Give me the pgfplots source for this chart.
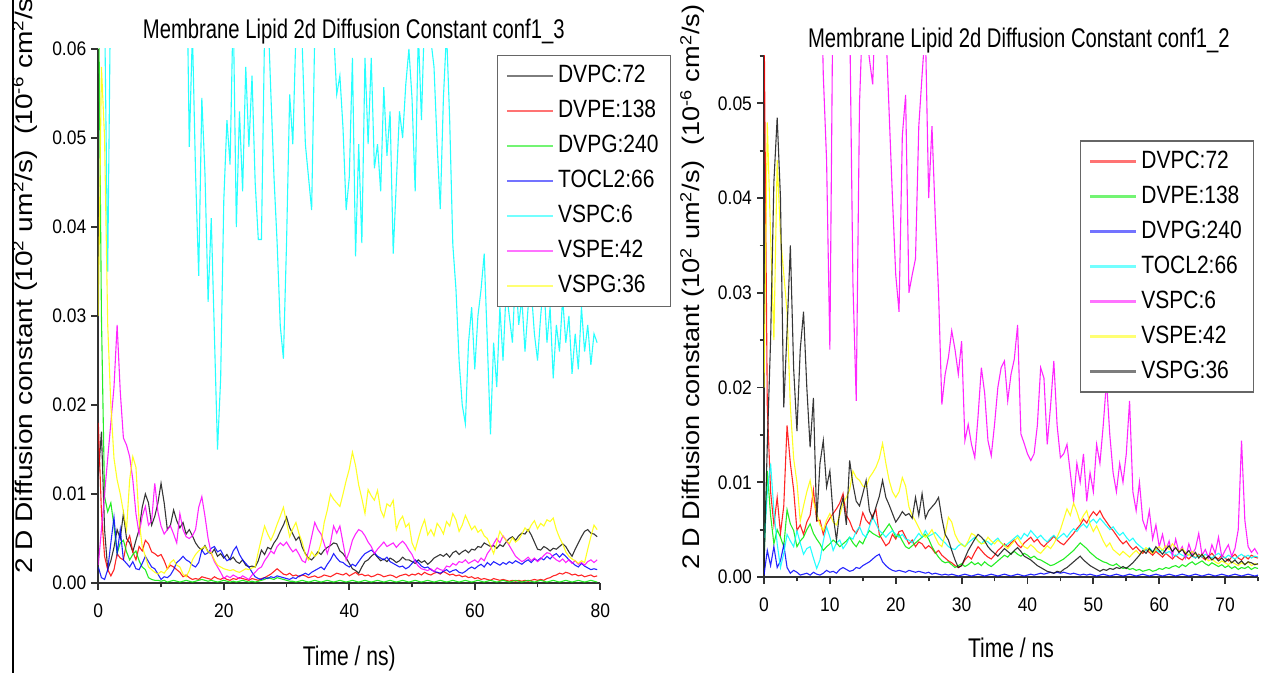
\documentclass[border=0pt]{standalone}
\usepackage{pgfplots}
\pgfplotsset{compat=1.18}
\usepackage{pgfplotstable}
\usepackage{fontspec}
\setmainfont{Liberation Sans}
\newfontfamily\fT[FakeStretch=0.75]{Liberation Sans}
\newfontfamily\fL[FakeStretch=0.84]{Liberation Sans}
\newfontfamily\fX[FakeStretch=0.78]{Liberation Sans}
\newfontfamily\fYL[FakeStretch=1.17]{Liberation Sans}
\newfontfamily\fYR[FakeStretch=1.13]{Liberation Sans}
\newfontfamily\fK[FakeStretch=0.89]{Liberation Sans}
\definecolor{pgreen}{RGB}{0,235,0}
\definecolor{pred}{RGB}{255,0,0}
\definecolor{pblue}{RGB}{0,0,255}
\definecolor{pcyan}{RGB}{0,255,255}
\definecolor{pmagenta}{RGB}{255,0,255}
\definecolor{pyellow}{RGB}{255,255,0}
\definecolor{pblack}{RGB}{20,20,20}
\definecolor{axgray}{RGB}{50,50,50}

% Left panel (conf1_3); values in units of 0.001
\pgfplotstableread{
t K R G B C M Y
0 12 18 70 1.8 90 2 30
0.5 17 8 30 0.6 75 6 58
1 6 3 9.7 0.4 65 10 50
1.5 1.5 1.5 8 1.5 35 14 29
2 2.5 0.8 9 4.5 70 18 20
2.5 4 1.5 6.4 7.4 75 22 14
3 6 3.3 3.3 3.3 75 29 11.6
3.5 5 2.8 4.5 6 75 21.5 10
4 7.8 2.6 4.8 2.6 75 16.3 8
4.5 5 4.5 3.5 2.2 75 15.5 6
5 4.5 5.3 2.6 1.8 75 14.2 11.6
5.5 3.5 3.5 3.2 2.4 75 11.6 14.2
6 4.8 2.6 3.6 1.6 75 7.8 13
6.5 6 4.1 2.5 1.5 75 5.5 7
7 8.5 3.6 1.8 2.2 75 7.5 4.1
7.5 10 4.8 1.5 3 75 8.6 3
8 9 4.4 0.6 2.4 75 6.5 1.8
8.5 6.5 3.5 0.4 1.8 75 7 1.5
9 7.5 3.3 0.3 1.6 75 11.2 1.2
9.5 9 3 0.3 1.0 75 8 1.0
10 11.2 3.2 0.2 0.4 75 6.4 1.3
10.5 9 2.5 0.3 0.7 75 5.5 1.1
11 6 1.6 0.1 0.6 75 6 1.6
11.5 6.5 2 0.2 0.9 75 6.4 2.3
12 8.2 1.8 0.3 1.5 75 5.5 2.6
12.5 7 1.5 0.2 2.3 75 4.5 2.0
13 6.2 1.2 0.1 2.6 75 7.8 1.8
13.5 6.8 0.7 0.2 3 75 6 1.0
14 5.5 0.9 0.3 2.6 75 5.2 0.7
14.5 6 0.6 0.2 2.4 49 5 1.4
15 5.3 0.4 0.1 2 62 5.3 2.6
15.5 4.5 0.5 0.2 1.8 46 6 3.2
16 4 0.4 0.3 2.3 34.5 8.5 3.6
16.5 3.7 0.7 0.4 3.7 54.5 9.7 3.9
17 4.2 0.6 0.3 3.2 46 7.5 4.1
17.5 3.5 0.5 0.2 3.4 31.6 5 3.5
18 3.3 0.4 0.3 3.9 41 3.3 3.4
18.5 3.8 0.7 0.2 4.1 28 2.4 2.6
19 3 0.5 0.1 3.5 15 1.8 2.0
19.5 3.3 0.4 0.2 3.7 23 1.2 1.8
20 2.8 0.6 0.3 3 43 0.5 1.6
20.5 3.2 0.4 0.2 2.5 52 0.8 1.5
21 2.6 0.3 0.1 2.7 47 0.6 1.4
21.5 2.9 0.5 0.2 3.6 65 0.9 1.5
22 2.4 0.4 0.1 4.1 40 0.7 1.3
22.5 2.2 0.6 0.2 3.2 53 0.5 1.2
23 2.6 0.5 0.3 2.6 44 0.8 1.4
23.5 2 0.4 0.2 2.2 58 0.6 1.6
24 1.8 0.3 0.1 1.8 49 0.4 1.5
24.5 1.9 0.5 0.2 1.2 57 0.9 1.7
25 1.8 0.4 0.1 0.7 45 1.2 1.8
25.5 2.5 0.3 0.2 0.5 38.6 1.6 3.5
26 3.7 0.5 0.3 0.4 38.6 1.8 5
26.5 3.2 0.6 0.4 0.6 62 2.5 6.4
27 4 0.8 0.6 0.5 65 3 5.5
27.5 3.8 1.0 0.5 0.7 55 3.6 4.8
28 4.5 1.3 0.4 0.6 45.6 3.3 5.6
28.5 5 1.6 0.6 0.8 38.2 4.1 6.6
29 5.8 1.3 0.5 0.7 28.9 4.5 7.5
29.5 6.5 1.0 0.4 0.6 25.2 4.2 8.5
30 7.4 0.9 0.3 0.5 38.2 4.6 6.8
30.5 6.2 1.1 0.2 0.4 54.9 4.0 5.2
31 5.5 0.8 0.2 0.6 49.3 3.5 6.1
31.5 4.8 0.9 0.1 0.5 62 3.8 6.8
32 5.2 0.7 0.2 0.8 63 3.2 5.5
32.5 4 0.9 0.3 0.9 60.5 2.5 4.6
33 3.3 0.8 0.2 1.1 49.3 2.3 3.2
33.5 2.8 0.6 0.1 0.9 45.6 3.6 2.6
34 2.6 0.7 0.2 1.2 41.9 5.2 3.5
34.5 3 0.8 0.3 1.4 62 6.8 3.0
35 3.5 0.6 0.2 1.6 64 6.0 3.3
35.5 3.2 0.7 0.1 1.8 66 5.5 4.5
36 3.7 0.9 0.2 1.5 70 4.4 6.8
36.5 4 0.8 0.3 2.1 68 3.3 8.2
37 4.2 0.7 0.2 2.6 65 4.5 10
37.5 4.5 0.9 0.1 3.3 62 6.4 9.4
38 4.4 1.1 0.2 2.8 54.9 5.6 9.0
38.5 3.6 1.0 0.3 2.4 57 6.4 8.6
39 3.3 0.9 0.2 2.3 51.1 4.5 10
39.5 2.8 1.1 0.1 2.0 41.9 2.6 11.5
40 2.2 0.8 0.2 1.8 45.6 3.5 12.8
40.5 1.6 1.0 0.3 2.1 59 4.8 14.7
41 1.4 1.2 0.2 1.9 36.7 5.5 13.2
41.5 1.1 0.9 0.1 2.4 49.3 6 11
42 1.8 1.0 0.2 2.9 38.2 5.8 9.5
42.5 2.4 0.8 0.3 3.3 59 5.3 7.8
43 2.6 0.9 0.2 3.5 49.3 4.6 10.5
43.5 3 0.7 0.1 3.7 59 4.1 9.8
44 3.3 0.8 0.2 3.4 46.6 3.3 9.3
44.5 2.9 1.0 0.3 3.0 49.3 3.8 10.4
45 2.5 0.9 0.2 2.8 44 4.2 8.2
45.5 2.7 0.7 0.1 2.6 55.7 4.6 7.4
46 2.4 0.8 0.2 2.9 48 4.1 8.9
46.5 2.8 0.9 0.3 2.4 53 4.3 8.6
47 2.6 0.8 0.2 2.2 37 4.5 9.3
47.5 2.3 0.6 0.1 2.0 45 4.0 6
48 2.5 0.8 0.2 1.8 53 4.4 7.0
48.5 2.9 0.9 0.3 1.9 50 4.7 7.5
49 2.6 1.0 0.2 1.6 56 4.3 6.3
49.5 2.6 0.8 0.1 1.8 60 3.7 6.7
50 2.4 1.0 0.2 2.2 54.4 3.2 4.5
50.5 2.2 0.9 0.3 2.6 44 2.4 3.7
51 2.6 1.1 0.2 2.3 62 1.9 5.0
51.5 2.3 0.9 0.1 1.9 52 1.6 6.2
52 2.5 1.2 0.2 1.7 64 1.5 7.1
52.5 2.1 1.0 0.3 1.8 63 1.4 5.4
53 2.4 0.9 0.2 1.5 61 1.6 6.0
53.5 2.8 1.1 0.1 1.3 58 1.3 5.3
54 3 1.2 0.2 1.2 49.3 1.7 6.7
54.5 3.2 1.0 0.3 1.1 42 1.5 6.2
55 3 1.3 0.2 1.3 54.5 1.4 5.5
55.5 3.3 1.1 0.1 1.5 62 1.9 6.9
56 2.9 0.9 0.2 1.2 52 1.8 6.4
56.5 3.4 1.0 0.3 1.4 38 2.2 7.8
57 3.6 0.8 0.2 1.5 33 2.0 7.1
57.5 3.2 0.9 0.1 1.2 25 2.4 5.8
58 3.5 0.7 0.2 1.1 20 2.3 6.5
58.5 3.7 0.8 0.3 1.3 17.9 2.6 7.6
59 3.4 0.6 0.2 1.6 27 2.2 6.8
59.5 3.8 0.7 0.1 1.8 31 2.4 6.0
60 3.7 0.5 0.2 1.6 24 2.6 6.4
60.5 4.1 0.6 0.3 1.9 30 2.3 5.7
61 4 0.4 0.2 2.1 33 2.8 6.0
61.5 4.5 0.5 0.1 1.8 37 2.5 5.3
62 4.3 0.4 0.2 2.3 27 3.3 5.0
62.5 4.1 0.3 0.3 2.0 16.7 3.8 4.2
63 4.2 0.5 0.2 2.4 27 4.4 3.3
63.5 3.9 0.4 0.1 2.2 22 5 4.5
64 4.3 0.3 0.2 2.0 31 4.5 5.8
64.5 4.1 0.4 0.3 2.3 25 5.3 5.2
65 4.6 0.3 0.2 2.1 33 4.8 4.8
65.5 5 0.2 0.1 2.4 30 4.2 4.4
66 5.2 0.3 0.2 2.2 27 3.6 5.1
66.5 4.8 0.2 0.3 2.5 35 3.0 4.6
67 5.3 0.3 0.2 2.3 29 2.7 4.9
67.5 5.6 0.2 0.1 2.1 32 2.4 5.5
68 5.5 0.3 0.2 2.4 26 2.6 6.2
68.5 6 0.2 0.3 2.6 31 2.9 5.8
69 5.4 0.3 0.2 2.3 33 2.5 6.5
69.5 4.6 0.4 0.1 2.7 28 2.8 7.0
70 3.8 0.3 0.2 2.5 25 2.4 6.1
70.5 3.7 0.4 0.3 2.8 30 2.7 6.7
71 4.1 0.3 0.2 2.6 34 3.1 6.4
71.5 3.9 0.5 0.1 3.0 27 3.4 7.1
72 3.6 0.6 0.2 2.7 31 3.3 6.9
72.5 3.9 0.8 0.3 3.1 23 2.9 7.3
73 3.8 0.9 0.2 3.3 29 2.6 6.0
73.5 4.1 1.1 0.1 2.9 26 2.4 5.1
74 4.4 1.0 0.2 3.3 32 2.7 4.4
74.5 4.1 1.2 0.3 3.0 27 2.3 3.5
75 3.5 1.1 0.2 2.6 30 2.6 3.0
75.5 3 0.9 0.1 2.3 23.5 2.2 2.7
76 3.8 1.0 0.2 2.0 28 2.5 2.5
76.5 4.5 0.8 0.3 1.8 24 2.1 2.2
77 5.2 0.9 0.2 2.2 31 2.3 2.5
77.5 5.8 0.7 0.1 1.9 26 2.0 2.3
78 6 0.8 0.2 1.7 29 2.4 3.8
78.5 5.6 0.9 0.3 1.5 24.5 2.6 5.2
79 5.5 0.7 0.2 1.6 28 2.3 6.5
79.5 5.2 0.8 0.1 1.5 27 2.6 6.0
}\leftdata

% Right panel (conf1_2); values in units of 0.001
\pgfplotstableread{
t R G B C M Y K
0 60 2 0.2 3 70 20 1
0.5 18 11.2 2.8 9 70 48 14
1 9 6.5 1.2 12 70 36 25
1.5 5.5 3.5 3.2 7 70 25 41.7
2 8.4 5 1.0 3.5 70 44 48.5
2.5 4.6 4.2 1.7 1.0 70 36 40
3 7.5 3.2 3.4 2.5 70 32 17.9
3.5 16 7.1 1.0 4.5 70 28 26
4 12 5.6 0.4 3.8 70 18 35
4.5 9.2 4.9 0.7 3.2 70 12.5 22
5 4.9 3.2 0.5 4.9 70 10 15.4
5.5 5.5 3.8 0.2 3.6 70 5.9 24
6 4.5 4.2 0.3 2.4 70 7.5 28
6.5 5.8 5.0 0.4 3.0 70 9 20
7 6.5 5.6 0.2 3.2 70 10.2 13.7
7.5 9.2 4.6 0.5 2.0 70 8 18.9
8 5.9 4.0 0.3 0.9 70 6.7 5.9
8.5 6 3.5 0.2 1.8 70 5.5 12
9 4.5 2.8 0.4 3.8 53 4.9 14.4
9.5 5.6 3.2 0.7 5.3 44 6 9.5
10 6.2 3.5 0.5 4.2 24 6.7 11.2
10.5 6.7 3.9 0.6 2.8 65 5.8 6.5
11 7.2 3.6 0.4 3.6 70 5.5 3.9
11.5 7.8 3.2 0.8 3.9 75 6.5 7
12 8.8 3.5 1.0 3.0 70 7.8 8.4
12.5 6.5 3.8 0.8 3.5 72 8.4 5.5
13 5.9 4.2 0.6 4.2 60 9.2 12.3
13.5 5.0 3.6 0.7 4.0 31 11.2 9.8
14 4.6 3.2 1.0 4.8 18.6 10.5 8
14.5 5.3 3.8 0.9 5.3 50 10.2 7.5
15 6.8 3.5 1.2 4.5 60 9.6 8.8
15.5 6.0 4.3 1.4 4.2 58 9.5 10.2
16 5.6 4.9 1.6 5.3 54.7 10.5 7.0
16.5 6.5 4.6 1.9 6.3 52 11 6.2
17 7.1 4.4 2.2 5.6 62 11.6 7.4
17.5 4.5 4.2 2.4 4.9 65 12.5 8.5
18 3.9 4.6 1.6 4.6 62 14.1 10.2
18.5 3.3 5.1 1.2 4.2 58 12 8.4
19 3.6 5.6 0.9 4.6 49 10.2 7.6
19.5 4.5 5.0 0.7 4.9 40 9 6.7
20 4.0 4.2 0.6 4.5 31.9 8.4 5.8
20.5 4.8 4.5 0.7 4.2 28 9.0 6.3
21 4.9 3.8 0.6 4.5 46.6 10.5 6.9
21.5 4.2 3.2 0.5 4.0 50.9 9.6 6.5
22 3.5 3.0 0.7 3.9 30 7.4 6.7
22.5 3.9 3.3 0.6 3.6 31.9 6.5 6.2
23 3.2 3.6 0.5 4.1 33.6 5.9 8.4
23.5 3.7 3.9 0.6 4.6 47.6 5.2 6.5
24 3.5 4.2 0.5 4.2 53 4.5 8.8
24.5 3.0 4.5 0.4 4.9 58 4.2 6.2
25 3.3 4.0 0.5 4.3 40 4.5 7.0
25.5 3.0 3.2 0.3 4.5 47.6 5.0 7.4
26 2.5 2.6 0.4 4.7 38 4.2 7.8
26.5 2.8 2.1 0.3 4.3 30 3.5 8.4
27 2.3 1.7 0.2 3.9 18.2 3.2 6.2
27.5 2.0 1.5 0.3 3.6 21.4 4.5 4.5
28 1.7 1.6 0.2 3.2 23.2 6.3 3.9
28.5 1.5 1.3 0.3 3.0 26 5.8 2.8
29 1.2 1.0 0.2 2.9 24 4.5 1.8
29.5 1.0 1.2 0.1 3.3 21.4 3.8 1.0
30 1.2 1.4 0.2 3.5 24.9 3.4 1.2
30.5 1.8 1.1 0.3 3.2 14.4 3.2 2.0
31 2.2 1.3 0.2 3.6 16.1 3.8 2.8
31.5 1.9 1.6 0.1 3.9 14 4.6 3.4
32 2.6 1.3 0.2 4.2 12.6 4.4 4.0
32.5 3.2 1.5 0.3 3.8 17 3.8 4.5
33 2.8 1.2 0.2 3.5 22.1 3.5 4.2
33.5 2.4 1.6 0.1 3.9 19.4 3.6 3.8
34 2.1 1.3 0.2 3.7 14.4 4.2 3.2
34.5 1.9 1.1 0.3 3.4 12.8 3.8 2.8
35 2.3 1.4 0.2 3.8 16.1 3.5 2.5
35.5 2.8 1.7 0.1 4.1 20 3.9 2.2
36 3.1 2.0 0.2 3.6 22.1 3.6 2.6
36.5 3.5 2.3 0.3 3.3 22.8 3.3 3.0
37 3.2 2.1 0.2 3.5 18.6 3.0 2.7
37.5 3.6 2.5 0.1 3.8 21.4 3.4 2.4
38 3.9 2.7 0.2 4.1 23 3.8 2.8
38.5 3.4 2.4 0.3 4.4 26.6 4.2 3.1
39 3.1 2.2 0.2 4.0 15.1 3.6 2.7
39.5 3.6 2.5 0.1 4.6 14.1 3.2 2.2
40 3.9 2.3 0.2 4.3 13 3.0 2.0
40.5 4.2 2.0 0.3 4.9 12.3 3.4 1.8
41 3.7 2.2 0.2 4.5 13 3.1 1.5
41.5 4.0 1.9 0.3 4.1 16 2.7 1.2
42 3.5 1.8 0.4 4.4 22.1 2.5 1.0
42.5 3.2 1.6 0.3 4.0 21 2.9 0.8
43 3.6 1.4 0.4 3.7 14 3.3 0.6
43.5 3.9 1.2 0.5 4.1 18 3.0 0.5
44 4.3 1.3 0.4 4.4 22.8 3.5 0.4
44.5 3.9 1.5 0.5 4.0 16 4.2 0.6
45 3.6 1.7 0.4 4.3 12.6 5.0 0.5
45.5 3.4 1.9 0.5 4.6 13 6.1 0.8
46 3.8 2.2 0.4 4.2 14 7.2 1.0
46.5 4.2 2.5 0.3 4.7 11 6.5 1.3
47 4.6 2.8 0.4 5.1 8 7.8 1.6
47.5 5.1 3.2 0.3 4.8 12 6.9 1.9
48 5.5 3.6 0.2 5.3 10 5.8 2.2
48.5 6.1 3.3 0.3 5.6 13 6.5 1.8
49 5.7 3.0 0.2 5.2 8 7.0 1.5
49.5 6.4 2.6 0.3 5.8 11 5.6 1.2
50 6.9 2.3 0.2 6.1 9 4.8 1.0
50.5 6.5 2.0 0.1 5.7 14 5.4 0.8
51 7.0 1.8 0.2 6.2 12 4.6 0.6
51.5 6.3 1.6 0.3 5.8 16 3.8 0.8
52 5.8 1.5 0.2 5.4 20.7 3.2 0.7
52.5 5.3 1.3 0.1 5.0 15 3.6 0.9
53 4.9 1.2 0.2 5.3 11 2.9 0.8
53.5 4.4 1.4 0.3 4.8 9 2.6 1.0
54 3.9 1.1 0.2 4.4 12 2.3 0.9
54.5 3.5 0.9 0.1 4.7 10 2.7 1.1
55 3.8 1.0 0.2 4.2 13 2.4 0.9
55.5 3.3 0.8 0.3 3.8 18.6 2.1 1.2
56 2.9 0.9 0.2 4.1 9 2.5 1.5
56.5 3.2 0.7 0.1 3.6 7 2.8 1.9
57 2.8 0.8 0.2 3.3 10 2.4 2.3
57.5 2.5 0.6 0.3 3.0 6 2.7 2.8
58 2.9 0.7 0.2 2.8 5 3.1 2.5
58.5 2.6 0.8 0.1 3.1 7 2.8 3.0
59 2.3 0.6 0.2 2.7 4 2.5 2.6
59.5 2.7 0.7 0.3 2.9 5.5 2.9 3.2
60 2.4 0.9 0.2 2.6 3.2 3.2 2.8
60.5 2.1 0.8 0.1 2.9 4.5 2.8 2.4
61 2.5 1.0 0.2 2.5 2.8 3.3 2.9
61.5 2.2 0.9 0.3 2.7 3.8 2.9 3.3
62 1.9 1.1 0.2 2.4 2.2 3.5 2.7
62.5 2.3 1.2 0.1 2.2 4.0 3.1 3.1
63 2.0 1.0 0.2 2.5 2.6 2.7 2.6
63.5 1.8 1.3 0.3 2.3 3.2 3.0 2.9
64 2.2 1.1 0.2 2.1 2.0 2.6 2.4
64.5 1.9 1.4 0.1 2.4 3.5 2.3 2.8
65 2.3 1.6 0.2 2.2 2.4 2.7 2.2
65.5 2.0 1.3 0.3 2.0 3.0 2.4 2.6
66 2.4 1.5 0.2 2.3 4.6 2.1 2.0
66.5 2.1 1.7 0.1 2.1 2.3 2.4 2.4
67 1.8 1.4 0.2 2.4 2.9 2.0 1.9
67.5 2.2 1.2 0.3 2.2 2.0 1.7 2.2
68 2.5 1.5 0.2 2.0 3.4 1.9 1.8
68.5 2.1 1.3 0.1 2.3 2.5 1.6 2.1
69 1.9 1.1 0.2 2.5 4.2 1.4 1.7
69.5 2.3 1.3 0.3 2.2 2.1 1.7 2.0
70 2.0 1.0 0.2 2.0 2.8 1.5 1.6
70.5 1.7 1.2 0.1 2.3 3.4 1.3 1.9
71 2.1 0.9 0.2 2.1 2.2 1.6 1.5
71.5 2.4 1.1 0.3 1.9 3.0 1.4 1.8
72 2.0 0.8 0.2 2.2 5 1.2 1.4
72.5 1.8 1.0 0.1 2.4 14.4 1.5 1.7
73 2.2 0.9 0.2 2.1 6 1.3 1.3
73.5 1.9 1.1 0.3 2.3 3.2 1.6 1.6
74 2.3 0.8 0.2 2.0 2.6 1.2 1.5
74.5 2.1 1.0 0.1 2.2 3.0 1.4 1.3
75 2.0 0.9 0.2 2.1 2.4 1.3 1.4
}\rightdata

\pgfplotsset{
  panel/.style={
    scale only axis,
    anchor=south west,
    axis x line*=bottom,
    axis y line*=left,
    axis line style={line width=1pt, axgray},
    every tick/.style={line width=0.9pt, axgray},
    tick align=outside,
    major tick length=3.5pt,
    minor tick length=2.2pt,
    ymin=0,
    ticklabel style={font=\fK\fontsize{9.8}{10}\selectfont, text=black},
    xticklabel style={yshift=-3.5pt},
    yticklabel style={xshift=1pt},
    every axis title/.style={font=\fT\fontsize{13.5}{14}\selectfont, anchor=base},
    every axis x label/.style={font=\fX\fontsize{13.5}{14}\selectfont, anchor=base},
    every axis y label/.style={anchor=base west, rotate=90},
    legend cell align=left,
    legend image code/.code={\draw[#1, line width=1.3pt, draw opacity=0.55] (0pt,0pt) -- (23pt,0pt);},
    legend style={draw=black!60, line width=0.6pt, fill=white, anchor=north west,
      font=\fL\fontsize{12.5}{13}\selectfont, inner xsep=4pt, inner ysep=1.5pt,
      row sep=0pt,
      nodes={inner xsep=2pt, inner ysep=2.95pt, text height=9.3pt, text depth=2.3pt}},
    every axis plot/.append style={line width=0.55pt, draw opacity=0.85},
  }
}

\begin{document}
\begin{tikzpicture}
\useasboundingbox (0,0) rectangle (631pt,336.5pt);
\draw[line width=0.9pt, black] (6.3pt,0pt) -- (6.3pt,336.5pt);

\begin{axis}[panel,
  at={(49.15pt,45pt)}, width=251pt, height=267pt,
  xmin=0, xmax=80, ymax=60,
  xtick={0,20,40,60,80}, xticklabels={0,20,40,60,80},
  minor xtick={10,30,50,70},
  ytick={0,10,20,30,40,50,60},
  yticklabels={0.00,0.01,0.02,0.03,0.04,0.05,0.06},
  title={Membrane Lipid 2d Diffusion Constant conf1\_3},
  title style={at={(axis description cs:0.509,1.019)}},
  xlabel={Time / ns)},
  xlabel style={at={(axis description cs:0.500,-0.1536)}},
  ylabel={2 D Diffusion constant (10\textsuperscript{2} um\textsuperscript{2}/s)\ \ (10\textsuperscript{-6} cm\textsuperscript{2}/s)},
  ylabel style={at={(axis description cs:-0.132,0.004)}, font=\fYL\fontsize{12}{13}\selectfont},
  legend style={at={(axis description cs:0.794,0.989)}},
]
\addplot[pblack] table[x=t, y=K] {\leftdata};
\addlegendentry{DVPC:72}
\addplot[pred] table[x=t, y=R] {\leftdata};
\addlegendentry{DVPE:138}
\addplot[pgreen] table[x=t, y=G] {\leftdata};
\addlegendentry{DVPG:240}
\addplot[pblue] table[x=t, y=B] {\leftdata};
\addlegendentry{TOCL2:66}
\addplot[pcyan] table[x=t, y=C] {\leftdata};
\addlegendentry{VSPC:6}
\addplot[pmagenta] table[x=t, y=M] {\leftdata};
\addlegendentry{VSPE:42}
\addplot[pyellow] table[x=t, y=Y] {\leftdata};
\addlegendentry{VSPG:36}
\end{axis}

\begin{axis}[panel,
  at={(382pt,48pt)}, width=247pt, height=260.5pt,
  xmin=0, xmax=75, ymax=55,
  xtick={0,10,20,30,40,50,60,70}, xticklabels={0,10,20,30,40,50,60,70},
  minor xtick={5,15,25,35,45,55,65,75},
  ytick={0,10,20,30,40,50},
  yticklabels={0.00,0.01,0.02,0.03,0.04,0.05},
  minor ytick={5,15,25,35,45,55},
  title={Membrane Lipid 2d Diffusion Constant conf1\_2},
  title style={at={(axis description cs:0.516,1.017)}},
  xlabel={Time / ns},
  xlabel style={at={(axis description cs:0.500,-0.1536)}},
  ylabel={2 D Diffusion constant (10\textsuperscript{2} um\textsuperscript{2}/s)\ \ (10\textsuperscript{-6} cm\textsuperscript{2}/s)},
  ylabel style={at={(axis description cs:-0.1296,0.0)}, font=\fYR\fontsize{12}{13}\selectfont},
  legend style={at={(axis description cs:0.640,0.838)}},
]
\addplot[pred] table[x=t, y=R] {\rightdata};
\addlegendentry{DVPC:72}
\addplot[pgreen] table[x=t, y=G] {\rightdata};
\addlegendentry{DVPE:138}
\addplot[pblue] table[x=t, y=B] {\rightdata};
\addlegendentry{DVPG:240}
\addplot[pcyan] table[x=t, y=C] {\rightdata};
\addlegendentry{TOCL2:66}
\addplot[pmagenta] table[x=t, y=M] {\rightdata};
\addlegendentry{VSPC:6}
\addplot[pyellow] table[x=t, y=Y] {\rightdata};
\addlegendentry{VSPE:42}
\addplot[pblack] table[x=t, y=K] {\rightdata};
\addlegendentry{VSPG:36}
\end{axis}
\end{tikzpicture}
\end{document}
